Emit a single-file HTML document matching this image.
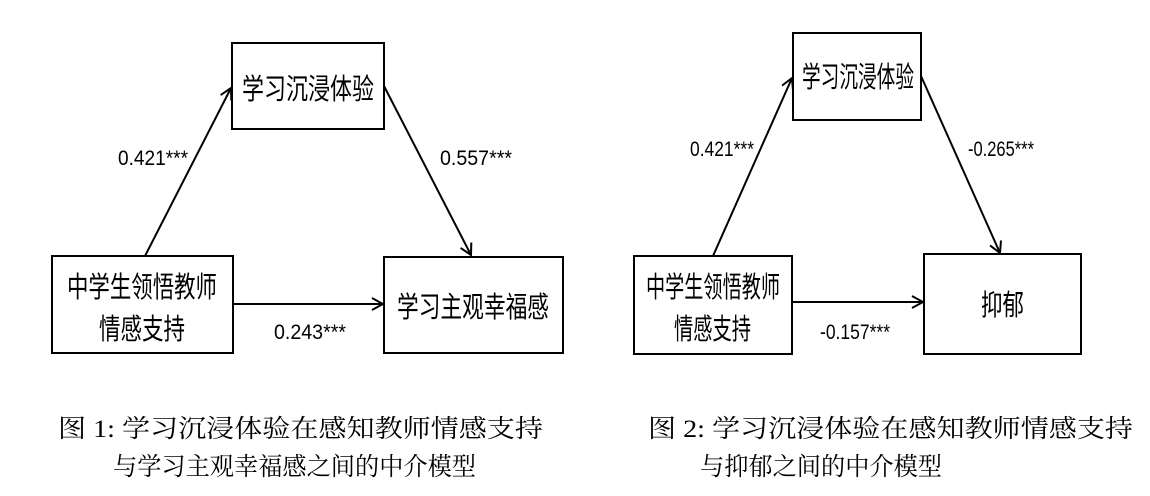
<!DOCTYPE html>
<html><head><meta charset="utf-8"><style>
html,body{margin:0;padding:0;background:#fff;}
svg{display:block;}
.b{font-family:"Liberation Sans","Noto Sans CJK SC",sans-serif;font-size:29px;fill:#000;}
.n{font-family:"Liberation Sans",sans-serif;font-size:21px;fill:#000;}
.c{font-family:"Liberation Serif","Noto Serif CJK SC",serif;font-size:25px;fill:#000;}
</style></head><body>
<svg width="1150" height="496" viewBox="0 0 1150 496" xmlns="http://www.w3.org/2000/svg">
<defs><marker id="a" markerWidth="14" markerHeight="14" refX="12" refY="7" orient="auto" markerUnits="userSpaceOnUse"><path d="M1,1 L12,7 L1,13" fill="none" stroke="#000" stroke-width="2"/></marker></defs>
<g fill="none" stroke="#000" stroke-width="2">
<rect x="232" y="43" width="152" height="86"/>
<rect x="52" y="256" width="181" height="97"/>
<rect x="384" y="257" width="179" height="96"/>
<line x1="145" y1="256" x2="231" y2="88" marker-end="url(#a)"/>
<line x1="384" y1="86" x2="471" y2="255" marker-end="url(#a)"/>
<line x1="233" y1="304" x2="383" y2="304" marker-end="url(#a)"/>
<rect x="793" y="33" width="128" height="87"/>
<rect x="634" y="256" width="158" height="98"/>
<rect x="924" y="254" width="157" height="100"/>
<line x1="713" y1="256" x2="792" y2="78" marker-end="url(#a)"/>
<line x1="921" y1="76" x2="1000" y2="253" marker-end="url(#a)"/>
<line x1="792" y1="302" x2="923" y2="302" marker-end="url(#a)"/>
</g>
<text class="b" x="242" y="99" textLength="132" lengthAdjust="spacingAndGlyphs">学习沉浸体验</text>
<text class="b" x="67" y="297" textLength="150" lengthAdjust="spacingAndGlyphs">中学生领悟教师</text>
<text class="b" x="99" y="339" textLength="86" lengthAdjust="spacingAndGlyphs">情感支持</text>
<text class="b" x="397" y="317" textLength="152" lengthAdjust="spacingAndGlyphs">学习主观幸福感</text>
<text class="n" x="118" y="165" textLength="70" lengthAdjust="spacingAndGlyphs">0.421***</text>
<text class="n" x="440" y="165" textLength="72" lengthAdjust="spacingAndGlyphs">0.557***</text>
<text class="n" x="274" y="339" textLength="72" lengthAdjust="spacingAndGlyphs">0.243***</text>
<text class="b" x="802" y="87" textLength="112" lengthAdjust="spacingAndGlyphs">学习沉浸体验</text>
<text class="b" x="646" y="297" textLength="134" lengthAdjust="spacingAndGlyphs">中学生领悟教师</text>
<text class="b" x="674" y="339" textLength="77" lengthAdjust="spacingAndGlyphs">情感支持</text>
<text class="b" x="981" y="315" textLength="43" lengthAdjust="spacingAndGlyphs">抑郁</text>
<text class="n" x="690" y="156" textLength="64" lengthAdjust="spacingAndGlyphs">0.421***</text>
<text class="n" x="968" y="156" textLength="66" lengthAdjust="spacingAndGlyphs">-0.265***</text>
<text class="n" x="820" y="339" textLength="70" lengthAdjust="spacingAndGlyphs">-0.157***</text>
<text class="c" x="58" y="437" textLength="485" lengthAdjust="spacingAndGlyphs">图 1:  学习沉浸体验在感知教师情感支持</text>
<text class="c" x="113" y="475" textLength="363" lengthAdjust="spacingAndGlyphs">与学习主观幸福感之间的中介模型</text>
<text class="c" x="648" y="437" textLength="485" lengthAdjust="spacingAndGlyphs">图 2:  学习沉浸体验在感知教师情感支持</text>
<text class="c" x="700" y="475" textLength="242" lengthAdjust="spacingAndGlyphs">与抑郁之间的中介模型</text>
</svg>
</body></html>
